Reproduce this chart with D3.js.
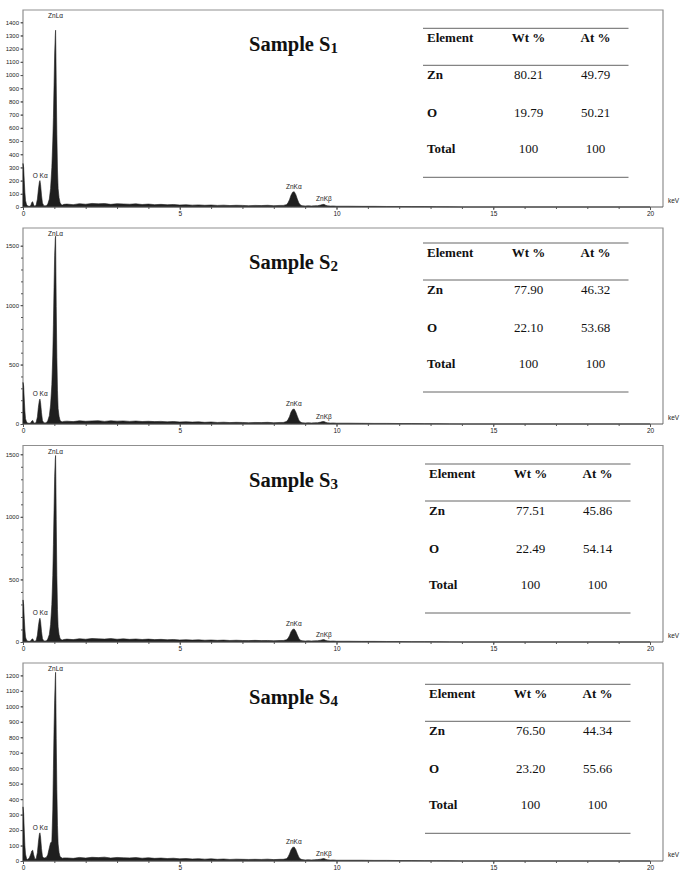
<!DOCTYPE html>
<html>
<head>
<meta charset="utf-8">
<script src="https://cdn.jsdelivr.net/npm/d3@7/dist/d3.min.js"></script>
<style>
  html, body { margin: 0; padding: 0; background: #fff; }
  svg { display: block; }
  .tick text { font-family: "Liberation Sans", Arial, sans-serif; }
</style>
</head>
<body>
<svg id="chart" width="685" height="874"></svg>
<script>
// ---------- DATA ----------
const sampleNames = ["1", "2", "3", "4"];

// energy channels (keV)
const eLow = [0,0.02,0.04,0.06,0.08,0.11,0.15,0.20,0.25,0.28,0.31,0.34,0.38,0.42,0.46,0.49,0.52,0.54,0.56,0.59,0.62,0.66,0.70,0.75,0.79,0.84,0.88,0.92,0.95,0.97,0.99,1.01,1.03,1.04,1.05,1.06,1.08,1.10,1.12,1.15,1.18,1.22,1.26,1.30];
const eBackground = [1.4,1.6,1.8,2.0,2.2,2.4,2.6,2.8,3.0,3.2,3.4,3.6,3.8,4.0,4.2,4.4,4.6,4.8,5.0,5.2,5.4,5.6,5.8,6.0,6.2,6.4,6.6,6.8,7.0,7.2,7.4,7.6,7.8,8.0,8.2];
const eHigh = [8.3,8.4,8.45,8.5,8.55,8.6,8.65,8.7,8.75,8.8,8.85,8.9,9.0,9.1,9.2,9.3,9.4,9.5,9.55,9.6,9.65,9.7,9.8,9.9,10.0,10.4,10.8,11.2,11.6,12.0,12.4,12.8,13.2,13.6,14.0,20.0];

// counts, sample S1
const lowS1 = [330,300,200,110,50,20,8,5,12,35,40,15,6,15,60,130,185,200,170,90,30,12,8,12,22,60,140,300,500,680,920,1160,1300,1340,1160,940,550,280,140,70,35,18,15,20];
const bgS1 = [22,18,25,21,27,24,26,20,25,23,21,24,19,22,18,20,17,19,15,17,14,16,13,15,12,14,11,13,12,10,12,11,13,10,12];
const highS1 = [12,18,30,55,90,112,116,95,60,30,15,10,8,9,8,9,10,15,19,20,14,9,7,8,6,6,5,5,4,4,3,3,2,1,0,0];
// counts, sample S2
const lowS2 = [350,320,210,110,45,18,8,6,10,25,30,12,6,14,60,140,195,210,180,95,30,12,8,12,28,70,160,330,580,840,1150,1420,1560,1580,1280,990,560,280,130,65,32,20,18,22];
const bgS2 = [24,20,27,23,26,28,22,27,24,26,22,25,21,23,20,22,18,21,17,19,16,18,14,17,13,15,12,14,13,11,13,12,14,11,13];
const highS2 = [13,20,35,62,100,122,126,102,65,32,16,11,9,10,9,10,11,16,20,21,15,10,8,9,7,7,6,5,5,4,4,3,2,1,0,0];
// counts, sample S3
const lowS3 = [336,300,190,100,40,16,7,5,10,22,25,10,5,12,55,125,175,190,165,85,28,10,7,10,24,60,140,300,530,780,1050,1320,1460,1490,1260,980,530,260,120,60,30,18,16,20];
const bgS3 = [23,19,26,22,28,25,23,27,22,25,21,24,20,23,19,21,18,20,16,18,15,17,14,16,13,15,12,14,12,11,13,11,12,10,12];
const highS3 = [12,17,28,50,82,100,104,85,55,28,14,10,8,9,8,9,10,14,18,19,13,9,7,8,6,6,5,5,4,4,3,3,2,1,0,0];
// counts, sample S4
const lowS4 = [350,310,200,100,45,18,10,20,45,65,70,40,12,15,55,120,170,182,155,80,30,20,20,25,40,85,118,125,330,600,850,1040,1180,1220,1020,790,460,230,110,55,30,22,18,20];
const bgS4 = [20,17,23,19,24,22,25,19,23,21,20,22,18,21,17,19,16,18,14,16,13,15,12,14,11,13,10,12,11,10,11,10,12,9,11];
const highS4 = [11,15,25,45,72,88,90,75,48,25,13,9,7,8,7,8,9,12,15,16,12,8,6,7,5,5,5,4,4,3,3,2,2,1,0,0];

// peak labels
const peakLabels = ["ZnLα", "O Kα", "ZnKα", "ZnKβ"];
const peakEnergies = [1.04, 0.55, 8.64, 9.6];

// y tick label steps per panel
const yLabelStep = [100, 500, 500, 100];
const yMinorStep = [100, 100, 100, 100];

// x ticks
const xMajorTicks = [0, 5, 10, 15, 20];
const xMinorTicks = [0,1,2,3,4,5,6,7,8,9,10,11,12,13,14,15,16,17,18,19,20];

// composition tables
const tableHeaders = ["Element", "Wt %", "At %"];
const tableElements = ["Zn", "O", "Total"];
const wtPercent = [["80.21","19.79","100"],["77.90","22.10","100"],["77.51","22.49","100"],["76.50","23.20","100"]];
const atPercent = [["49.79","50.21","100"],["46.32","53.68","100"],["45.86","54.14","100"],["44.34","55.66","100"]];

// ---------- LAYOUT ----------
const energies = eLow.concat(eBackground, eHigh);
const countsAll = [
  lowS1.concat(bgS1, highS1),
  lowS2.concat(bgS2, highS2),
  lowS3.concat(bgS3, highS3),
  lowS4.concat(bgS4, highS4)
];

const panels = [
  { top: 10,   zero: 207, yMax: 1493, yTop: 1400, tableTop: 28.3, tableLeft: 423 },
  { top: 228,  zero: 424, yMax: 1649, yTop: 1500, tableTop: 243,  tableLeft: 423 },
  { top: 445.5,zero: 642, yMax: 1570, yTop: 1500, tableTop: 464,  tableLeft: 425 },
  { top: 663,  zero: 861, yMax: 1280, yTop: 1200, tableTop: 684.3,tableLeft: 425 }
];

const svg = d3.select("#chart");
svg.append("rect").attr("width", 685).attr("height", 874).attr("fill", "#fff");

const axisLeftX = 23, frameRight = 663;
const x = d3.scaleLinear().domain([0, 20]).range([axisLeftX, 650]);
const frameColor = "#8f8f8f";
const sans = '"Liberation Sans", Arial, sans-serif';
const serif = '"Liberation Serif", "Times New Roman", serif';

panels.forEach((p, i) => {
  const g = svg.append("g");
  const y = d3.scaleLinear().domain([0, p.yMax]).range([p.zero, p.top]);
  const data = energies.map((e, k) => ({ e: e, c: countsAll[i][k] }));

  // frame
  g.append("path")
    .attr("d", `M${axisLeftX},${p.zero}V${p.top}H${frameRight}V${p.zero}`)
    .attr("fill", "none").attr("stroke", frameColor).attr("stroke-width", 1.2);

  // spectrum
  const area = d3.area().x(d => x(d.e)).y0(y(0)).y1(d => y(d.c));
  g.append("path").datum(data).attr("d", area)
    .attr("fill", "#1f1f1f").attr("stroke", "#1f1f1f").attr("stroke-width", 0.6)
    .attr("stroke-linejoin", "round");

  // bottom axis line
  g.append("line").attr("x1", axisLeftX).attr("x2", frameRight)
    .attr("y1", p.zero).attr("y2", p.zero).attr("stroke", "#555").attr("stroke-width", 1);

  // x axis: minor ticks
  g.append("g").attr("transform", `translate(0,${p.zero})`)
    .call(d3.axisBottom(x).tickValues(xMinorTicks).tickSize(2).tickFormat(""))
    .call(a => a.select(".domain").remove())
    .call(a => a.selectAll("line").attr("stroke", "#555"));
  // x axis: labels
  g.append("g").attr("transform", `translate(0,${p.zero})`)
    .call(d3.axisBottom(x).tickValues(xMajorTicks).tickSize(3).tickPadding(1.5).tickFormat(d3.format("d")))
    .call(a => a.select(".domain").remove())
    .call(a => a.selectAll("line").attr("stroke", "#555"))
    .call(a => a.selectAll("text").attr("font-size", 6.5).attr("fill", "#222"));

  g.append("text").attr("x", 668).attr("y", p.zero - 4)
    .attr("font-family", sans).attr("font-size", 6.5).attr("fill", "#222").text("keV");

  // y axis
  const minor = d3.range(0, p.yTop + 1, yMinorStep[i]);
  const major = d3.range(0, p.yTop + 1, yLabelStep[i]);
  g.append("g").attr("transform", `translate(${axisLeftX},0)`)
    .call(d3.axisLeft(y).tickValues(minor).tickSize(2).tickFormat(""))
    .call(a => a.select(".domain").remove())
    .call(a => a.selectAll("line").attr("stroke", "#555"));
  g.append("g").attr("transform", `translate(${axisLeftX},0)`)
    .call(d3.axisLeft(y).tickValues(major).tickSize(2.5).tickPadding(1.5).tickFormat(d3.format("d")))
    .call(a => a.select(".domain").remove())
    .call(a => a.selectAll("line").attr("stroke", "#555"))
    .call(a => a.selectAll("text").attr("font-size", 6).attr("fill", "#222"));

  // peak labels
  peakLabels.forEach((lab, j) => {
    const pe = peakEnergies[j];
    const near = data.filter(d => Math.abs(d.e - pe) < 0.12);
    const peakC = d3.max(near, d => d.c);
    const ly = j === 0 ? p.top + 8 : y(peakC) - 3;
    g.append("text").attr("x", x(pe)).attr("y", ly)
      .attr("text-anchor", "middle").attr("font-family", sans)
      .attr("font-size", 6.5).attr("fill", "#222").text(lab);
  });

  // title
  const t = g.append("text").attr("x", 249).attr("y", p.top + 41)
    .attr("font-family", serif).attr("font-weight", "bold").attr("font-size", 20.5).attr("fill", "#111");
  t.append("tspan").text("Sample S");
  t.append("tspan").attr("font-size", 15).attr("dy", 2).text(sampleNames[i]);

  // table
  const T = p.tableTop, L = p.tableLeft;
  const lineYs = [T, T + 37, T + 149];
  lineYs.forEach(ly => g.append("line").attr("x1", L).attr("x2", L + 205.5)
    .attr("y1", ly).attr("y2", ly).attr("stroke", "#666").attr("stroke-width", 1));
  const colX = [L + 4, L + 105.5, L + 172.5];
  const colAnchor = ["start", "middle", "middle"];
  tableHeaders.forEach((h, c) => g.append("text").attr("x", colX[c]).attr("y", T + 13.5)
    .attr("text-anchor", colAnchor[c]).attr("font-family", serif).attr("font-weight", "bold")
    .attr("font-size", 13).attr("fill", "#111").text(h));
  const rowY = [T + 51, T + 88.5, T + 125];
  tableElements.forEach((el, r) => {
    g.append("text").attr("x", colX[0]).attr("y", rowY[r]).attr("font-family", serif)
      .attr("font-weight", "bold").attr("font-size", 13).attr("fill", "#111").text(el);
    g.append("text").attr("x", colX[1]).attr("y", rowY[r]).attr("text-anchor", "middle")
      .attr("font-family", serif).attr("font-size", 13).attr("fill", "#111").text(wtPercent[i][r]);
    g.append("text").attr("x", colX[2]).attr("y", rowY[r]).attr("text-anchor", "middle")
      .attr("font-family", serif).attr("font-size", 13).attr("fill", "#111").text(atPercent[i][r]);
  });
});
</script>
</body>
</html>
